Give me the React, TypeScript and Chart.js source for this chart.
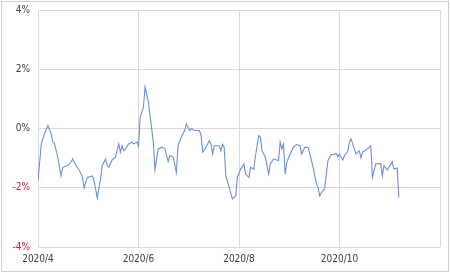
import React, { useEffect, useRef } from "react";
import { Chart, registerables } from "chart.js";

Chart.register(...registerables);

// Days since 2020-04-01 for each plotted observation
const dayOffsets = [
  0, 2, 4, 6, 8, 9, 10, 12, 14, 15, 18, 20, 21, 23, 25, 27, 28, 30, 33, 34, 36, 37, 38, 39, 41, 42, 43, 45, 47, 49,
  50, 51, 52, 53, 55, 57, 58, 60, 61, 62, 64, 65, 67, 68, 70, 71, 73, 75, 77, 79, 80, 82, 84, 85, 87, 89, 90, 92,
  93, 95, 98, 99, 100, 102, 104, 105, 106, 107, 110, 111, 112, 113, 114, 116, 118, 120, 121, 123, 125, 126, 128,
  129, 131, 132, 134, 135, 136, 138, 140, 141, 143, 145, 146, 147, 148, 149, 150, 151, 153, 155, 157, 159, 160,
  162, 164, 165, 167, 169, 170, 171, 172, 174, 175, 176, 178, 180, 181, 182, 183, 185, 186, 188, 189, 190, 192,
  193, 195, 196, 197, 200, 202, 203, 205, 208, 209, 210, 212, 215, 216, 218, 219,
];

// Values in %
const values = [
  -1.76, -0.52, -0.17, 0.1, -0.17, -0.46, -0.5, -0.97, -1.6, -1.31, -1.25, -1.14, -1.03, -1.25, -1.4, -1.65, -2.0,
  -1.65, -1.6, -1.76, -2.35, -1.99, -1.71, -1.25, -1.03, -1.25, -1.31, -1.06, -0.97, -0.52, -0.8, -0.58, -0.75,
  -0.69, -0.52, -0.46, -0.52, -0.46, -0.6, 0.38, 0.72, 1.4, 0.89, 0.44, -0.46, -1.39, -0.69, -0.63, -0.67, -1.12,
  -0.92, -0.95, -1.48, -0.58, -0.29, -0.07, 0.16, -0.07, -0.01, -0.07, -0.07, -0.24, -0.8, -0.63, -0.41, -0.52,
  -0.86, -0.58, -0.58, -0.75, -0.54, -0.63, -1.6, -1.99, -2.38, -2.27, -1.65, -1.37, -1.2, -1.54, -1.65, -1.31,
  -1.37, -0.92, -0.24, -0.29, -0.75, -0.97, -1.54, -1.2, -1.03, -1.06, -1.08, -0.46, -0.69, -0.52, -1.54, -1.14,
  -0.86, -0.63, -0.54, -0.58, -0.86, -0.63, -0.65, -0.86, -1.31, -1.87, -1.99, -2.27, -2.16, -2.04, -1.54, -1.08,
  -0.88, -0.88, -0.84, -0.95, -0.86, -1.06, -0.92, -0.77, -0.46, -0.35, -0.69, -0.86, -0.75, -0.99, -0.8, -0.69,
  -0.58, -1.65, -1.2, -1.18, -1.6, -1.25, -1.4, -1.12, -1.37, -1.33, -2.33,
];

// X axis ticks (days since 2020-04-01) and their labels
const xTickDays = [0, 61, 122, 183, 244];
const xTickLabels = ["2020/4", "2020/6", "2020/8", "2020/10", ""];

const yTicks = [-4, -2, 0, 2, 4];

const FONT = "'Liberation Sans Narrow', 'DejaVu Sans Condensed', 'Liberation Sans', sans-serif";

export default function App() {
  const ref = useRef<HTMLCanvasElement | null>(null);

  useEffect(() => {
    if (!ref.current) return;
    const border = {
      id: "outerBorder",
      afterDraw(chart: any) {
        const c = chart.ctx;
        c.save();
        c.strokeStyle = "#d0d0d0";
        c.lineWidth = 1;
        c.strokeRect(1.5, 1.5, chart.width - 3, chart.height - 3);
        c.restore();
      },
    };
    const chart = new Chart(ref.current, {
      type: "line",
      data: {
        datasets: [
          {
            data: dayOffsets.map((d, i) => ({ x: d, y: values[i] })),
            borderColor: "#6b8fdc",
            borderWidth: 1.1,
            pointRadius: 0,
            tension: 0,
            fill: false,
          },
        ],
      },
      options: {
        animation: false,
        responsive: false,
        maintainAspectRatio: false,
        layout: { padding: { left: 0, right: 10, top: 10, bottom: 2 } },
        plugins: { legend: { display: false }, tooltip: { enabled: false } },
        scales: {
          x: {
            type: "linear",
            min: 0,
            max: 244,
            afterBuildTicks: (scale: any) => {
              scale.ticks = xTickDays.map((v) => ({ value: v }));
            },
            afterFit: (scale: any) => {
              scale.paddingLeft = 0;
              scale.paddingRight = 0;
            },
            ticks: {
              autoSkip: false,
              maxRotation: 0,
              padding: 6,
              color: "#404040",
              font: { family: FONT, size: 10 },
              callback: (v: any) => {
                const i = xTickDays.indexOf(Number(v));
                return i >= 0 ? xTickLabels[i] : "";
              },
            },
            grid: { color: "#d9d9d9", drawTicks: false },
            border: { display: false },
          },
          y: {
            min: -4,
            max: 4,
            afterBuildTicks: (scale: any) => {
              scale.ticks = yTicks.map((v) => ({ value: v }));
            },
            afterFit: (scale: any) => {
              scale.width = 38;
              scale.paddingTop = 0;
              scale.paddingBottom = 0;
            },
            ticks: {
              padding: 8,
              font: { family: FONT, size: 10 },
              color: (ctx: any) => (ctx.tick && ctx.tick.value < 0 ? "#e0202a" : "#404040"),
              callback: (v: any) => `${v}%`,
            },
            grid: { color: "#d9d9d9", drawTicks: false },
            border: { display: false },
          },
        },
      },
      plugins: [border],
    });
    return () => chart.destroy();
  }, []);

  return (
    <div style={{ position: "absolute", left: 0, top: 0, width: 450, height: 273, background: "#fff" }}>
      <canvas ref={ref} width={450} height={273} style={{ display: "block", width: 450, height: 273 }} />
    </div>
  );
}
